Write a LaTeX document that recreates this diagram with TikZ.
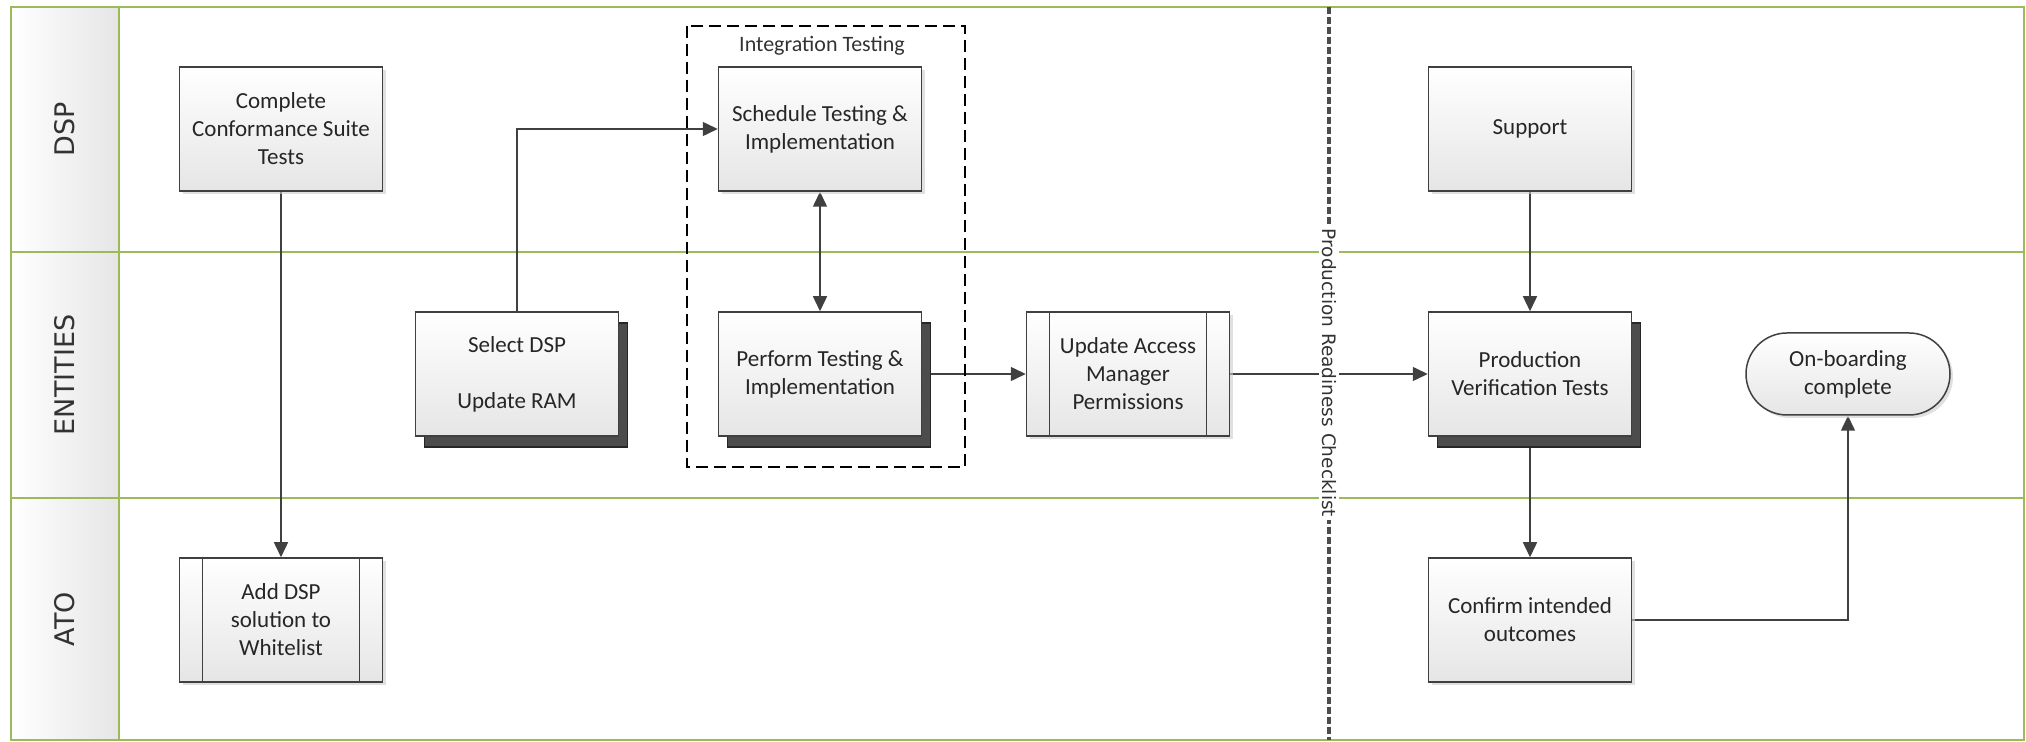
\documentclass[tikz,border=0pt]{standalone}
\usepackage{fontspec}
\setmainfont{Carlito}
\newfontfamily\lanefont{DejaVu Sans}
\usetikzlibrary{arrows.meta,shadows,backgrounds}
\definecolor{lanegreen}{HTML}{9BBB59}
\definecolor{boxline}{HTML}{404040}
\tikzset{
  box/.style={draw=boxline, line width=0.75pt, top color=white, bottom color=black!10,
    minimum width=101.5pt, minimum height=62pt, align=center, inner sep=2pt,
    font=\fontsize{11.5}{14}\selectfont, text=black!85},
  task/.style={box, drop shadow={shadow xshift=1.5pt, shadow yshift=-1.5pt, fill=black!20, opacity=0.6}},
  multi/.style={box, general shadow={shadow xshift=4.5pt, shadow yshift=-5.5pt, fill=black!70, draw=black!85}},
  subproc/.style={task, path picture={
      \draw[boxline, line width=0.75pt] ([xshift=11.5pt]path picture bounding box.north west) -- ([xshift=11.5pt]path picture bounding box.south west);
      \draw[boxline, line width=0.75pt] ([xshift=-11.5pt]path picture bounding box.north east) -- ([xshift=-11.5pt]path picture bounding box.south east);}},
  terminal/.style={task, rounded corners=20.5pt, minimum width=102pt, minimum height=41pt},
  conn/.style={draw=boxline, line width=0.75pt, -{Triangle[length=7.5pt,width=7pt]}},
  lane/.style={draw=lanegreen, line width=1pt},
  lanename/.style={font=\lanefont\fontsize{13.5}{16}\selectfont, text=black!80, rotate=90}
}
\begin{document}
\begin{tikzpicture}[x=0.5pt,y=-0.5pt]
\useasboundingbox (0,0) rectangle (2026,742);

\node[task] (complete) at (281,129) {Complete\\Conformance Suite\\Tests};
\node[multi] (select) at (517,374) {Select DSP\\~\\Update RAM};
\node[task] (sched) at (820,129) {Schedule Testing \&\\Implementation};
\node[multi] (perform) at (820,374) {Perform Testing \&\\Implementation};
\node[subproc] (access) at (1128,374) {Update Access\\Manager\\Permissions};
\node[task] (support) at (1530,129) {Support};
\node[multi] (pvt) at (1530,374) {Production\\Verification Tests};
\node[terminal] (onboard) at (1848,374) {On-boarding\\complete};
\node[subproc] (whitelist) at (281,620) {Add DSP\\solution to\\Whitelist};
\node[task] (confirm) at (1530,620) {Confirm intended\\outcomes};

\node[font=\fontsize{11}{13}\selectfont, text=black!80] (intlabel) at (822,46) {Integration Testing};
\draw[line width=0.75pt, dash pattern=on 6pt off 3pt] (687,26) rectangle (965,467);

\begin{scope}[on background layer]
\shade[left color=white, right color=black!10] (11,7) rectangle (119,740);
\draw[lane] (11,7) rectangle (2024,740);
\draw[lane] (119,7) -- (119,740);
\draw[lane] (11,252) -- (2024,252);
\draw[lane] (11,498) -- (2024,498);
\node[lanename] (dsplane) at (65,129) {DSP};
\node[lanename] (entlane) at (65,375) {ENTITIES};
\node[lanename] (atolane) at (65,619) {ATO};
\draw[black!70, line width=1.6pt, dash pattern=on 3.5pt off 1.5pt] (1329,7) -- (1329,740);

\draw[conn] (complete) -- (whitelist);
\draw[conn] (select.north) |- (sched.west);
\draw[conn, {Triangle[length=7.5pt,width=7pt]}-{Triangle[length=7.5pt,width=7pt]}] (sched) -- (perform);
\draw[conn] ([xshift=4.5pt]perform.east) -- (access.west);
\draw[conn] (access.east) -- (pvt.west);
\draw[conn] (support) -- (pvt);
\draw[conn] ([yshift=-5.5pt]pvt.south) -- (confirm.north);
\draw[conn] (confirm.east) -| (onboard.south);
\end{scope}

\node[fill=white, rotate=-90, inner sep=1.5pt, font=\lanefont\fontsize{9.25}{11}\selectfont, text=black!80] (checklist) at (1329,373) {Production Readiness Checklist};
\end{tikzpicture}
\end{document}
